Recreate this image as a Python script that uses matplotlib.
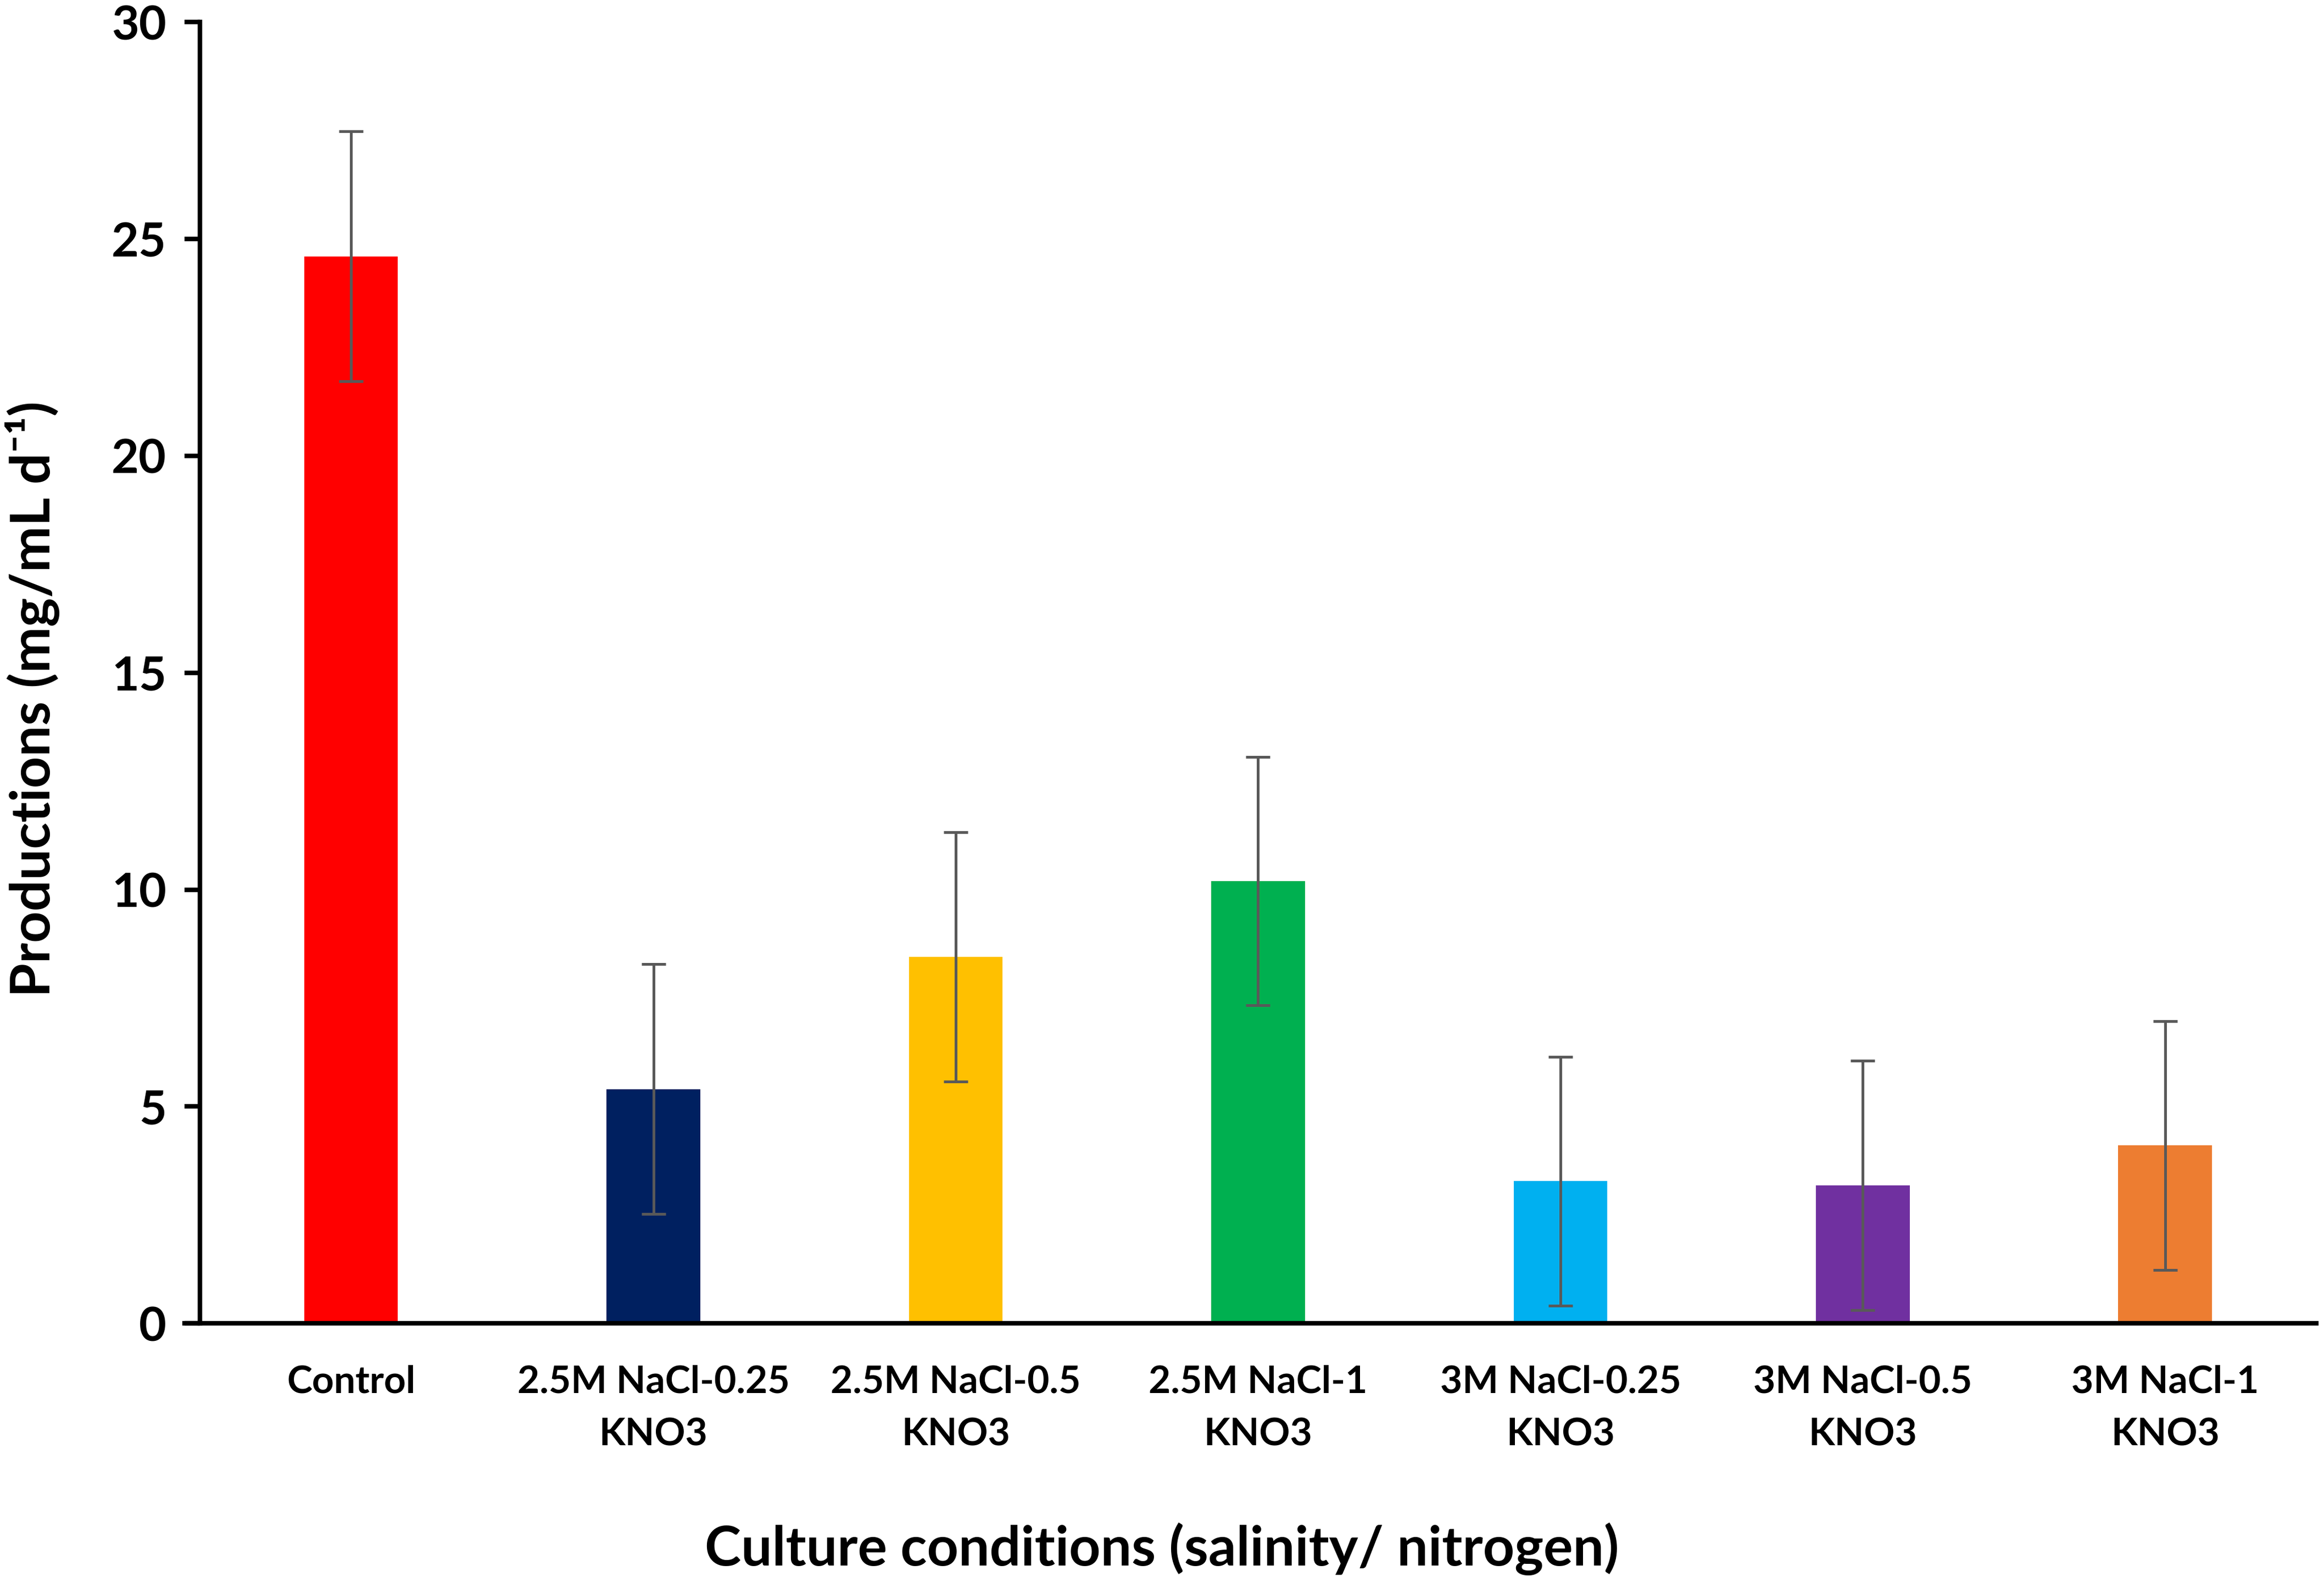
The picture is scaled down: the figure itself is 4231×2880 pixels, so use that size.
import numpy as np
import matplotlib.pyplot as plt

conditions = ["Control", "2.5M NaCl-0.25\nKNO3", "2.5M NaCl-0.5\nKNO3", "2.5M NaCl-1\nKNO3",
              "3M NaCl-0.25\nKNO3", "3M NaCl-0.5\nKNO3", "3M NaCl-1\nKNO3"]
production = [24.6, 5.4, 8.45, 10.2, 3.28, 3.18, 4.1]
errors = [2.88, 2.88, 2.87, 2.86, 2.87, 2.87, 2.87]
colors = ["#FF0000", "#002060", "#FFC000", "#00B050", "#00B0F0", "#7030A0", "#ED7D31"]

plt.rcParams['font.family'] = ['Lato', 'DejaVu Sans']
plt.rcParams['font.weight'] = 'bold'

fig = plt.figure(figsize=(4231 / 200, 2880 / 200), dpi=200)
ax = fig.add_axes([0.086, 0.1635, 0.9107, 0.8225])

x = np.arange(len(conditions))
ax.bar(x, production, width=0.31, color=colors, zorder=2)
ax.errorbar(x, production, yerr=errors, fmt="none", ecolor="#595959",
            elinewidth=1.8, capsize=8, capthick=1.8, zorder=3)

ax.set_xlim(-0.5, len(conditions) - 0.5)
ax.set_ylim(0, 30)
ax.set_yticks(np.arange(0, 31, 5))
ax.set_xticks(x)
ax.set_xticklabels(conditions, fontsize=25, fontweight="bold", linespacing=1.66)
ax.tick_params(axis="x", length=0, pad=27)
ax.tick_params(axis="y", length=10, width=3, labelsize=31, pad=12)
for lbl in ax.get_yticklabels():
    lbl.set_fontweight("bold")

for side in ["top", "right"]:
    ax.spines[side].set_visible(False)
ax.spines["left"].set_linewidth(3)
ax.spines["bottom"].set_linewidth(3)
ax.spines["bottom"].set_bounds(-0.55, len(conditions) - 0.5)

fig.text(0.5, 0.021, "Culture conditions (salinity/ nitrogen)", ha="center", va="center",
         fontsize=36, fontweight="bold")
fig.text(0.014, 0.558, "Productions (mg/mL d\u207b\u00b9)", ha="center", va="center",
         rotation=90, fontsize=36, fontweight="bold")

fig.savefig("out.png", dpi=200)
